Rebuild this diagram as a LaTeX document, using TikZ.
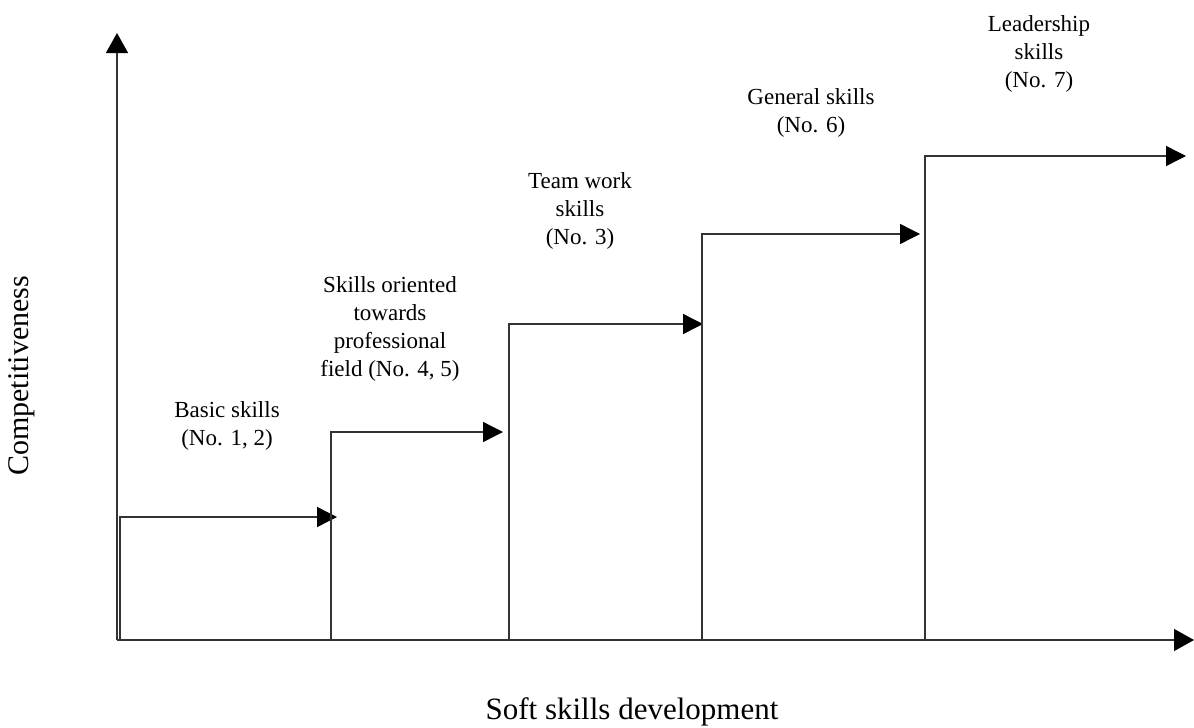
\documentclass[tikz,border=0pt]{standalone}
\usepackage{fontspec}
\setmainfont{Liberation Serif}
\usetikzlibrary{arrows.meta}
\tikzset{
	axis/.style={line width=1.4pt,color=black!80,-{Triangle[length=20pt,width=22pt,black]}},
	stair/.style={line width=1.4pt,color=black!80,-{Triangle[length=20pt,width=20pt,black]}},
	lbl/.style={align=center,font=\fontsize{23}{28}\selectfont,inner sep=0pt}
}
\begin{document}
\begin{tikzpicture}[x=1pt,y=-1pt]
		  \useasboundingbox (0,0) rectangle (1194,728);
		  \coordinate (o) at (117,640);
		  \coordinate (ytop) at (117,33);
		  \coordinate (xend) at (1194,640);
		  \draw[axis] (o) -- (ytop);
		  \draw[axis] (o) -- (xend);
  % steps: base x, height y, arrow end
		  \foreach \name/\bx/\hy/\ex in {s1/120/517/337, s2/331/432/503, s3/509/324/703, s4/702/234/920, s5/925/156/1186}{
		    \coordinate (\name b) at (\bx,640);
		    \coordinate (\name e) at (\ex,\hy);
		    \draw[stair] (\name b) |- (\name e);
		  }
		  \node[lbl] (basic) at (227,426) {Basic skills\\(No. 1, 2)};
		  \node[lbl] (prof) at (390,329) {Skills oriented\\towards\\professional\\field (No. 4, 5)};
		  \node[lbl] (team) at (580,211) {Team work\\skills\\(No. 3)};
		  \node[lbl] (general) at (811,113) {General skills\\(No. 6)};
		  \node[lbl] (lead) at (1039,54) {Leadership\\skills\\(No. 7)};
		  \node[font=\fontsize{30}{34}\selectfont,rotate=90] (ylab) at (22,376) {Competitiveness};
		  \node[font=\fontsize{31}{34}\selectfont] (xlab) at (632,712) {Soft skills development};
		\end{tikzpicture}
\end{document}
